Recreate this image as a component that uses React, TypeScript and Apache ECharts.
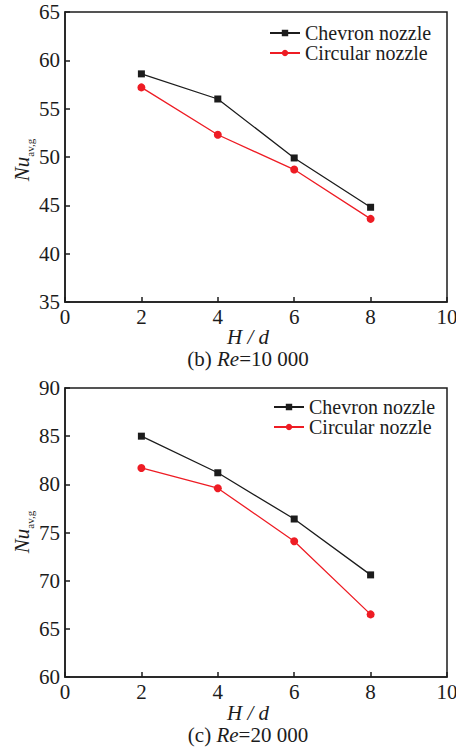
import React, { useEffect, useRef } from 'react';
import * as echarts from 'echarts';

// H/d values (x axis)
const hOverD = [2, 4, 6, 8];
// (b) Re = 10 000
const chevronRe10k = [58.6, 56.0, 49.9, 44.8];
const circularRe10k = [57.2, 52.3, 48.7, 43.6];
// (c) Re = 20 000
const chevronRe20k = [85.0, 81.2, 76.4, 70.6];
const circularRe20k = [81.7, 79.6, 74.1, 66.5];

const seriesNames = ['Chevron nozzle', 'Circular nozzle'];
const yRanges = [
  [35, 65],
  [60, 90],
];
const xRange = [0, 10];
const panelTitles = [
  ['(b) ', 'Re', '=10 000'],
  ['(c) ', 'Re', '=20 000'],
];

export default function App() {
  const ref = useRef<HTMLDivElement>(null);
  useEffect(() => {
    const chart = echarts.init(ref.current!, null, { renderer: 'svg' });
    const FONT = "'Liberation Serif', 'Times New Roman', serif";
    const BLACK = '#1c1c1c';
    const RED = '#ee1c24';
    const FS = 21;
    const mk = (arr: number[]) => hOverD.map((x, i) => [x, arr[i]]);
    const gridTops = [12, 388];
    const gridHeights = [290, 289];
    const legendPos = [
      [269, 23],
      [273, 397],
    ];
    const xNameY = [337, 713];
    const titleY = [359, 735];
    const yNameY = [160, 532];

    const grid = [0, 1].map((i) => ({
      left: 65,
      top: gridTops[i],
      width: 382,
      height: gridHeights[i],
      show: true,
      borderColor: BLACK,
      borderWidth: 1.5,
      backgroundColor: 'transparent',
      outerBoundsMode: 'none',
    }));

    const xAxis = [0, 1].map((i) => ({
      type: 'value',
      gridIndex: i,
      min: xRange[0],
      max: xRange[1],
      interval: 2,
      axisLine: { show: true, onZero: false, lineStyle: { color: BLACK, width: 1.5 } },
      axisTick: { show: true, inside: true, length: 5, lineStyle: { color: BLACK, width: 1.5 } },
      axisLabel: { color: BLACK, fontFamily: FONT, fontSize: FS, margin: 4 },
      splitLine: { show: false },
    }));

    const yAxis = [0, 1].map((i) => ({
      type: 'value',
      gridIndex: i,
      min: yRanges[i][0],
      max: yRanges[i][1],
      interval: 5,
      axisLine: { show: true, onZero: false, lineStyle: { color: BLACK, width: 1.5 } },
      axisTick: { show: true, inside: true, length: 5, lineStyle: { color: BLACK, width: 1.5 } },
      axisLabel: { color: BLACK, fontFamily: FONT, fontSize: FS, margin: 5, padding: [8, 0, 0, 0] },
      splitLine: { show: false },
    }));

    const data = [
      [chevronRe10k, circularRe10k],
      [chevronRe20k, circularRe20k],
    ];
    const series: any[] = [];
    [0, 1].forEach((i) => {
      series.push({
        type: 'line',
        name: seriesNames[0],
        xAxisIndex: i,
        yAxisIndex: i,
        data: mk(data[i][0]),
        symbol: 'rect',
        symbolSize: 7,
        lineStyle: { color: BLACK, width: 1.3 },
        itemStyle: { color: BLACK },
      });
      series.push({
        type: 'line',
        name: seriesNames[1],
        xAxisIndex: i,
        yAxisIndex: i,
        data: mk(data[i][1]),
        symbol: 'circle',
        symbolSize: 8,
        lineStyle: { color: RED, width: 1.3 },
        itemStyle: { color: RED },
      });
    });

    const legend = [0, 1].map((i) => ({
      orient: 'vertical',
      left: legendPos[i][0],
      top: legendPos[i][1],
      itemWidth: 30,
      itemHeight: 8,
      itemGap: 0,
      padding: 0,
      textStyle: { fontFamily: FONT, fontSize: 20, color: BLACK, lineHeight: 20 },
      data: seriesNames,
    }));

    const graphic: any[] = [];
    [0, 1].forEach((i) => {
      graphic.push({
        type: 'text',
        x: 22,
        y: yNameY[i],
        rotation: Math.PI / 2,
        style: {
          text: '{a|Nu}{b|av,g}',
          align: 'center',
          verticalAlign: 'middle',
          fill: BLACK,
          rich: {
            a: { fontFamily: FONT, fontStyle: 'italic', fontSize: FS, lineHeight: 26, verticalAlign: 'middle', fill: BLACK },
            b: { fontFamily: FONT, fontSize: 11, lineHeight: 12, verticalAlign: 'bottom', fill: BLACK },
          },
        },
      });
      graphic.push({
        type: 'text',
        x: 248,
        y: xNameY[i],
        style: {
          text: 'H / d',
          fontFamily: FONT,
          fontStyle: 'italic',
          fontSize: FS,
          align: 'center',
          verticalAlign: 'middle',
          fill: BLACK,
        },
      });
      graphic.push({
        type: 'text',
        x: 248,
        y: titleY[i],
        style: {
          text: `{n|${panelTitles[i][0]}}{it|${panelTitles[i][1]}}{n|${panelTitles[i][2]}}`,
          align: 'center',
          verticalAlign: 'middle',
          fill: BLACK,
          rich: {
            n: { fontFamily: FONT, fontSize: FS, lineHeight: 22, fill: BLACK },
            it: { fontFamily: FONT, fontStyle: 'italic', fontSize: FS, lineHeight: 22, fill: BLACK },
          },
        },
      });
    });

    chart.setOption({
      animation: false,
      backgroundColor: '#fff',
      grid,
      xAxis,
      yAxis,
      legend,
      series,
      graphic,
    } as any);
    return () => chart.dispose();
  }, []);
  return (
    <div
      ref={ref}
      style={{ position: 'absolute', left: 0, top: 0, width: 456, height: 747, background: '#fff' }}
    />
  );
}
